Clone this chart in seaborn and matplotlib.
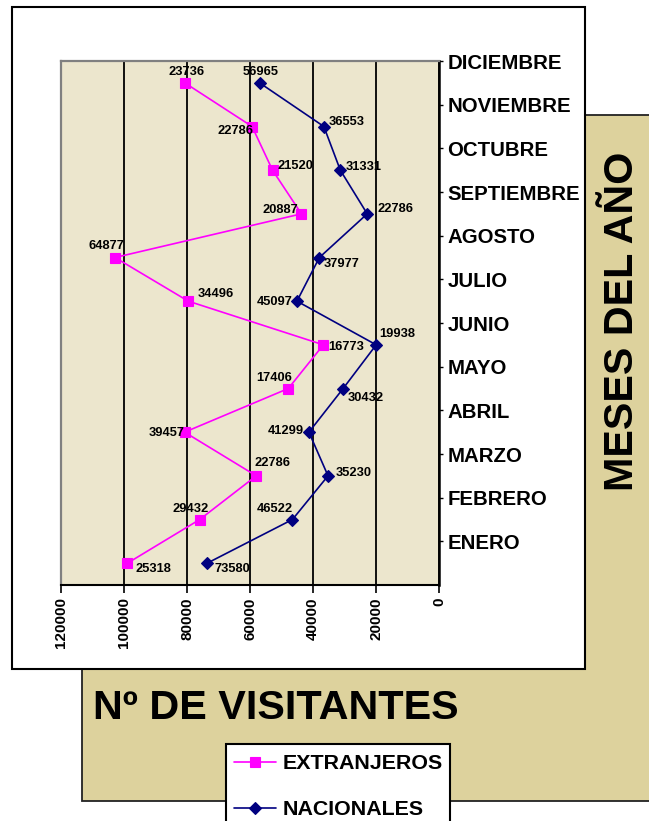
import matplotlib
matplotlib.use("Agg")
import matplotlib.pyplot as plt
import pandas as pd
import seaborn as sns
from matplotlib.patches import Rectangle

# datos: visitantes por mes (enero -> diciembre)
meses = ['ENERO', 'FEBRERO', 'MARZO', 'ABRIL', 'MAYO', 'JUNIO', 'JULIO',
         'AGOSTO', 'SEPTIEMBRE', 'OCTUBRE', 'NOVIEMBRE', 'DICIEMBRE']
nacionales = [73580, 46522, 35230, 41299, 30432, 19938, 45097, 37977, 22786, 31331, 36553, 56965]
extranjeros = [25318, 29432, 22786, 39457, 17406, 16773, 34496, 64877, 20887, 21520, 22786, 23736]
x_ticks = [0, 20000, 40000, 60000, 80000, 100000, 120000]

# posicion de las etiquetas de valor (pixeles respecto al marcador)
off_ext = [(26, -6), (-9, 10), (16, 13), (-18, -1), (-14, 11), (23, -2),
           (27, 7), (-9, 12), (-21, 4), (23, 4), (-17, -4), (2, 11)]
off_nac = [(25, -6), (-18, 10), (26, 3), (-23, 1), (23, -9), (21, 11),
           (-22, -1), (22, -6), (28, 5), (23, 3), (23, 5), (1, 11)]

ROSA = '#FF00FF'
AZUL = '#000080'


def main():
    sns.set_theme(style='white')
    plt.rcParams['font.family'] = ['Liberation Sans', 'DejaVu Sans']
    plt.rcParams['font.weight'] = 'bold'
    for k in ['text.color', 'axes.labelcolor', 'xtick.color', 'ytick.color']:
        plt.rcParams[k] = 'black'

    pos = list(range(len(meses)))
    acum = [n + e for n, e in zip(nacionales, extranjeros)]  # lineas apiladas
    df = pd.DataFrame({
        'valor': acum + nacionales,
        'pos': pos + pos,
        'serie': ['EXTRANJEROS'] * 12 + ['NACIONALES'] * 12,
    })

    fig = plt.figure(figsize=(6.49, 8.21), dpi=100)
    fig.patch.set_facecolor('white')

    # fondos
    fig.patches.append(Rectangle((82 / 649, 1 - 801 / 821), 0.9, 686 / 821,
                                 transform=fig.transFigure, facecolor='#DDD29D',
                                 edgecolor='#222222', linewidth=1.3, zorder=-3))
    fig.patches.append(Rectangle((12 / 649, 1 - 669 / 821), 573 / 649, 662 / 821,
                                 transform=fig.transFigure, facecolor='white',
                                 edgecolor='black', linewidth=1.5, zorder=-2))
    fig.patches.append(Rectangle((226 / 649, -0.05), 224 / 649, 0.05 + 77 / 821,
                                 transform=fig.transFigure, facecolor='white',
                                 edgecolor='black', linewidth=1.5, zorder=-1))

    ax = fig.add_axes([61 / 649, 1 - 585 / 821, 378 / 649, 524 / 821])
    ax.set_facecolor('#ECE6CD')

    sns.lineplot(data=df, x='valor', y='pos', hue='serie', style='serie',
                 palette={'EXTRANJEROS': ROSA, 'NACIONALES': AZUL},
                 markers={'EXTRANJEROS': 's', 'NACIONALES': 'D'}, dashes=False,
                 sort=False, estimator=None, orient='y', linewidth=1.2,
                 markersize=7, legend=False, ax=ax)
    for ln in ax.lines:
        ln.set_markeredgecolor(ln.get_color())
        ln.set_markeredgewidth(0.8)
    ax.lines[1].set_markersize(6)

    for v, x, y, (dx, dy) in zip(extranjeros, acum, pos, off_ext):
        ax.annotate(str(v), xy=(x, y), xytext=(dx, dy), textcoords='offset pixels',
                    ha='center', va='center', fontsize=9.3, fontweight='bold')
    for v, y, (dx, dy) in zip(nacionales, pos, off_nac):
        ax.annotate(str(v), xy=(v, y), xytext=(dx, dy), textcoords='offset pixels',
                    ha='center', va='center', fontsize=9.3, fontweight='bold')

    # ejes
    ax.set_xlim(120000, 0)
    ax.set_ylim(-0.5, 11.5)
    ax.set_xticks(x_ticks)
    ax.set_xticklabels([str(t) for t in x_ticks], rotation=90, fontsize=11, fontweight='bold')
    ax.set_yticks([p + 0.5 for p in pos])
    ax.set_yticklabels(meses, fontsize=14.7, fontweight='bold')
    ax.yaxis.tick_right()
    ax.tick_params(axis='y', direction='out', length=3, width=1, color='black', pad=3, right=True, left=False)
    ax.tick_params(axis='x', direction='out', length=6, width=1.2, color='black', pad=3, bottom=True)
    ax.set_xlabel('')
    ax.set_ylabel('')

    ax.set_axisbelow(True)
    ax.xaxis.grid(True, color='black', linewidth=1.3)
    ax.yaxis.grid(False)
    for s in ['top', 'left']:
        ax.spines[s].set_color('#808080')
        ax.spines[s].set_linewidth(1.6)
    ax.spines['right'].set_color('black')
    ax.spines['right'].set_linewidth(1.8)
    ax.spines['bottom'].set_color('black')
    ax.spines['bottom'].set_linewidth(1.5)

    # titulos
    fig.text(622 / 649, 1 - 321 / 821, 'MESES DEL AÑO', rotation=90, ha='center',
             va='center', fontsize=29.7, fontweight='bold')
    fig.text(93 / 649, 1 - 719 / 821, 'Nº DE VISITANTES', ha='left', va='baseline',
             fontsize=29.8, fontweight='bold')

    fig.legend(ax.lines[:2], ['EXTRANJEROS', 'NACIONALES'], loc='upper left',
               bbox_to_anchor=(234 / 649, 1 - 754 / 821), frameon=False,
               prop={'size': 15.4, 'weight': 'bold'}, handlelength=1.95,
               handletextpad=0.33, labelspacing=1.28, borderpad=0, borderaxespad=0)

    fig.savefig('out.png', dpi=100)


main()
